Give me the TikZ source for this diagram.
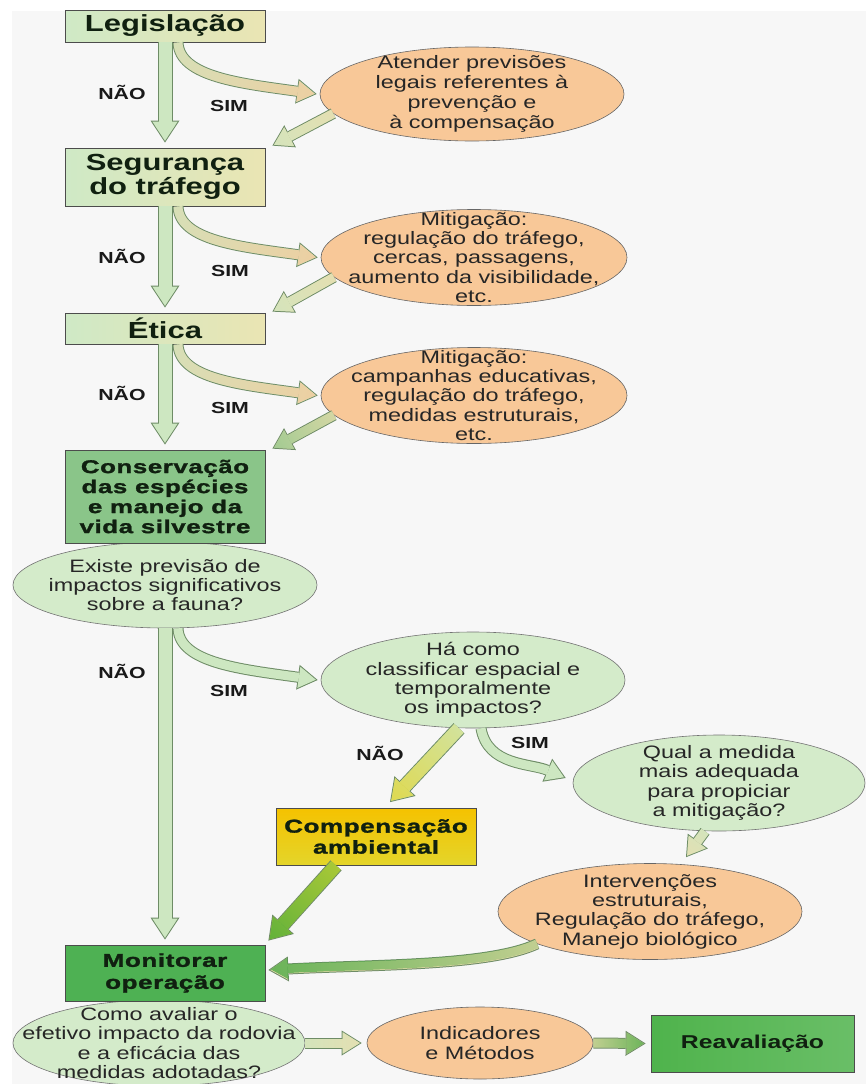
\documentclass[tikz,border=0pt]{standalone}
\usepackage{fontspec}
\setmainfont{Liberation Sans}[FakeStretch=1.3]
\newfontfamily\headfont{Liberation Sans}[FakeStretch=1.33]
\newfontfamily\heavyfont{Liberation Sans Bold}[FakeStretch=1.4,FakeBold=1.5,LetterSpace=3]
\usetikzlibrary{arrows.meta,shapes.geometric,fadings}

\definecolor{bggray}{HTML}{F7F7F7}
\definecolor{boxgreen}{HTML}{CFE9C6}
\definecolor{boxtan}{HTML}{EAE5B3}
\definecolor{consgreen}{HTML}{8AC589}
\definecolor{mongreen}{HTML}{4EB153}
\definecolor{reagreen}{HTML}{4FB34C}
\definecolor{compyellow}{HTML}{F5C200}
\definecolor{compbottom}{HTML}{E4D52A}
\definecolor{qgreen}{HTML}{D4EBCA}
\definecolor{peach}{HTML}{F8C898}
\definecolor{cream}{HTML}{ECDDAD}
\definecolor{arrowgreen}{HTML}{CDE7C1}
\definecolor{arrowedge}{HTML}{6E8C66}
\definecolor{yellowarrow}{HTML}{E5D52A}
\definecolor{yellowgreen}{HTML}{CBD435}
\definecolor{darkgreen}{HTML}{3FA63D}
\definecolor{inkgreen}{HTML}{102010}

\begin{tikzfadingfrompicture}[name=ramp]
  \shade[left color=transparent!100, right color=transparent!0] (-50pt,-50pt) rectangle (50pt,50pt);
\end{tikzfadingfrompicture}

\tikzset{
  fatbody/.style={line width=13pt, -{Triangle[width=25.3pt,length=19.2pt,line width=0pt]}, shorten >=1.8pt},
  slimbody/.style={line width=9pt, -{Triangle[width=21.4pt,length=17.1pt,line width=0pt]}, shorten >=1.9pt},
  fat/.style={body/.style={fatbody}, body, draw=#1,
    preaction={draw=arrowedge, line width=15pt, -{Triangle[width=29pt,length=22pt,line width=0pt]}, shorten >=0pt}},
  slim/.style={body/.style={slimbody}, body, draw=#1,
    preaction={draw=arrowedge, line width=11pt, -{Triangle[width=25pt,length=20pt,line width=0pt]}, shorten >=0pt}},
  tint/.style n args={4}{postaction={body, draw=#1, path fading=ramp, fit fading=false,
    fading transform={shift={(#2)}, rotate=#3, scale=#4}}},
}

\begin{document}
\begin{tikzpicture}[x=1pt, y=1pt,
  lightbox/.style={draw=black!70, line width=0.8pt, left color=boxgreen, right color=boxtan,
    minimum width=200pt, inner sep=0pt, align=center, text=inkgreen,
    font=\headfont\bfseries\fontsize{23.3}{23.5}\selectfont},
  darkbox/.style={draw=black!70, line width=0.8pt, minimum width=200pt, inner sep=0pt,
    align=center, text=inkgreen, font=\heavyfont\fontsize{18.5}{20}\selectfont},
  query/.style={ellipse, draw=black!55, line width=0.6pt, fill=qgreen, inner sep=-35pt,
    align=center, text=black!85, font=\fontsize{18}{19.3}\selectfont},
  measure/.style={query, fill=peach, draw=black!60},
  answer/.style={inner sep=0pt, text=black!90, font=\headfont\bfseries\fontsize{16}{18}\selectfont}]

  \useasboundingbox (0,0) rectangle (866,-1084);
  \fill[white] (0,0) rectangle (866,-1084);
  \fill[bggray] (12,-11) rectangle (866,-1084);

  % main column
  \node[lightbox, minimum height=32pt] (leg) at (165,-26) {Legislação};
  \node[lightbox, minimum height=58pt] (seg) at (165,-177) {Segurança\\do tráfego};
  \node[lightbox, minimum height=31pt] (eti) at (165,-328.5) {Ética};
  \node[query, minimum width=304pt, minimum height=86pt] (exi) at (165,-585)
    {Existe previsão de\\impactos significativos\\sobre a fauna?};
  \node[darkbox, fill=consgreen, minimum height=93pt] (con) at (165,-496.5)
    {Conservação\\das espécies\\e manejo da\\vida silvestre};
  \node[query, minimum width=292pt, minimum height=86pt] (como) at (159,-1043)
    {Como avaliar o\\efetivo impacto da rodovia\\e a eficácia das\\medidas adotadas?};
  \node[darkbox, fill=mongreen, minimum height=56pt,
    font=\heavyfont\fontsize{18.6}{22}\selectfont] (mon) at (165,-973) {Monitorar\\operação};

  % measures on the right
  \node[measure, minimum width=304pt, minimum height=94pt,
    font=\fontsize{18}{20}\selectfont] (o1) at (472,-94)
    {Atender previsões\\legais referentes à\\prevenção e\\à compensação};
  \node[measure, minimum width=306pt, minimum height=96pt] (o2) at (474,-257.5)
    {Mitigação:\\regulação do tráfego,\\cercas, passagens,\\aumento da visibilidade,\\etc.};
  \node[measure, minimum width=306pt, minimum height=96pt] (o3) at (474,-395.5)
    {Mitigação:\\campanhas educativas,\\regulação do tráfego,\\medidas estruturais,\\etc.};
  \node[query, minimum width=304pt, minimum height=96pt] (ha) at (473,-680)
    {Há como\\classificar espacial e\\temporalmente\\os impactos?};
  \node[query, minimum width=292pt, minimum height=96pt] (qual) at (719,-783)
    {Qual a medida\\mais adequada\\para propiciar\\a mitigação?};
  \node[darkbox, top color=compyellow, bottom color=compbottom, minimum height=57pt,
    font=\heavyfont\fontsize{18.6}{21}\selectfont] (comp) at (376,-836.5) {Compensação\\ambiental};
  \node[measure, minimum width=304pt, minimum height=96pt] (inter) at (650,-911.5)
    {Intervenções\\estruturais,\\Regulação do tráfego,\\Manejo biológico};
  \node[measure, minimum width=226pt, minimum height=72pt] (ind) at (480,-1043) {Indicadores\\e Métodos};
  \node[darkbox, left color=reagreen, right color=reagreen!85!white, minimum width=203pt, minimum height=57pt,
    font=\headfont\bfseries\fontsize{18.6}{22}\selectfont] (rea) at (752.5,-1043.5) {Reavaliação};

  % NÃO: straight down
  \foreach \a/\b in {leg/seg, seg/eti, eti/con, exi/mon}
    \draw[fat=arrowgreen] (\a.south) -- ([yshift=5pt]\b.north);

  % SIM: out to the measures and back
  \draw[slim=arrowgreen, tint={peach}{247.5,-68}{-20.5}{2.97}]
    ([xshift=13pt]leg.south) to[out=-88, in=172, out looseness=0.6, in looseness=1.3] ([xshift=-3pt]o1.west);
  \draw[slim=cream, tint={arrowgreen}{302.8,-129.8}{207.8}{1.39}]
    (o1.188) -- ([xshift=7pt,yshift=2pt]seg.north east);
  \draw[slim=arrowgreen, tint={peach}{248,-231.75}{-20.2}{2.98}]
    ([xshift=13pt]seg.south) to[out=-88, in=172, out looseness=0.6, in looseness=1.3] ([xshift=-3pt]o2.west);
  \draw[slim=cream, tint={arrowgreen}{303.2,-294.6}{209.2}{1.43}]
    (o2.188) -- ([xshift=7pt,yshift=1pt]eti.north east);
  \draw[slim=arrowgreen, tint={peach}{248,-369.75}{-20.2}{2.98}]
    ([xshift=13pt]eti.south) to[out=-88, in=172, out looseness=0.6, in looseness=1.3] ([xshift=-3pt]o3.west);
  \draw[slim=cream, tint={consgreen}{303.2,-432}{208.5}{1.42}]
    (o3.188) -- ([xshift=7pt,yshift=1pt]con.north east);

  % impacts branch
  \draw[slim=arrowgreen]
    ([xshift=13pt]exi.south) to[out=-88, in=172, out looseness=0.6, in looseness=1.3] ([xshift=-3pt]ha.west);
  \draw[fat=arrowgreen, tint={yellowarrow}{424.5,-765.25}{227.2}{2.03}]
    ([xshift=-14pt]ha.south) -- ([xshift=14pt,yshift=5.5pt]comp.north);
  \draw[slim=arrowgreen]
    ([xshift=8pt]ha.south) to[out=-80, in=157] ([xshift=-7pt,yshift=5pt]qual.west);
  \draw[slim=arrowgreen, tint={cream}{695.5,-844.25}{234.4}{0.65}]
    ([xshift=-14pt]qual.south) -- ([xshift=36pt,yshift=6pt]inter.north);
  \draw[fat=yellowgreen, tint={darkgreen}{302,-903}{228.2}{2.04}]
    ([xshift=-40pt]comp.south) -- ([xshift=3pt,yshift=4pt]mon.north east);
  \draw[slim=cream, tint={darkgreen}{402.75,-956.9}{185.6}{5.42}]
    (inter.196) to[out=205, in=3, out looseness=0.5] ([xshift=3pt,yshift=3pt]mon.east);

  % monitoring
  \draw[slim=arrowgreen, tint={cream}{333.5,-1043}{0}{1.14}] (como.east) -- ([xshift=-5pt]ind.west);
  \draw[slim=cream, tint={darkgreen}{619.5,-1043}{0}{1.06}] (ind.east) -- ([xshift=-5pt]rea.west);

  % answers
  \foreach \n/\x/\y in {1/122/92, 2/122/256, 3/122/393, 4/122/671, 5/380/753}
    \node[answer] (nao\n) at (\x,-\y) {NÃO};
  \foreach \n/\x/\y in {1/229/106, 2/230/271, 3/230/408, 4/229/691, 5/530/743}
    \node[answer] (sim\n) at (\x,-\y) {SIM};

\end{tikzpicture}
\end{document}
